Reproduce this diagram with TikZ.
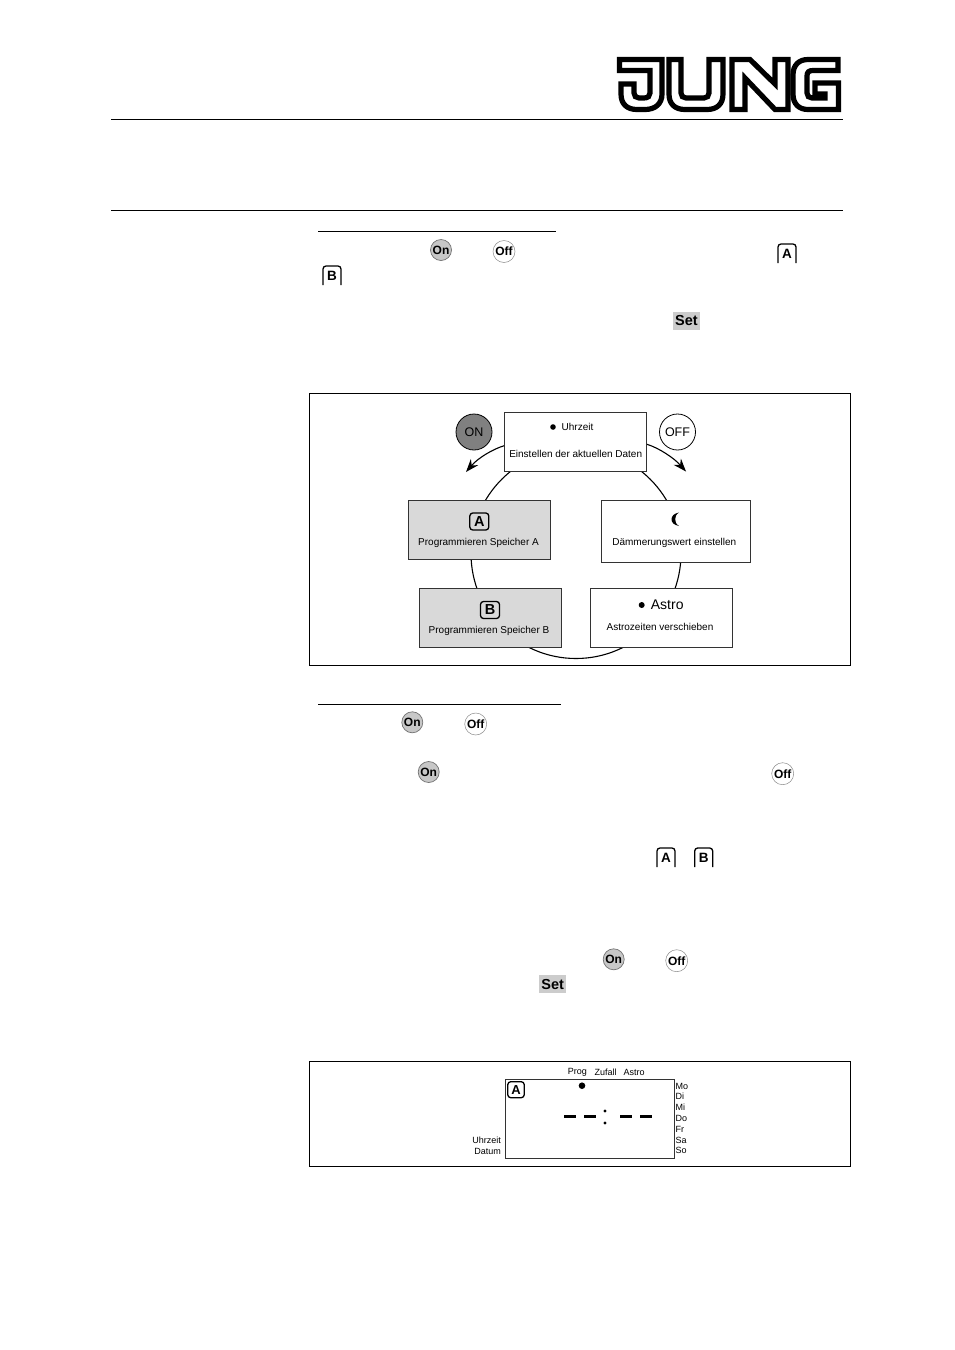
\documentclass[tikz,border=0pt]{standalone}
\usepackage{fontspec}
\setmainfont{Liberation Sans}
\usetikzlibrary{arrows.meta}
\newcommand{\fs}[1]{\fontsize{#1}{#1}\selectfont}
\tikzset{
  rule/.style={line width=1pt,black},
  frame/.style={draw=black,line width=1pt,fill=white},
  card/.style={draw=black!80,line width=.8pt,fill=white,inner sep=0pt,anchor=north west},
  graycard/.style={card,fill=black!15},
  logo/.style={draw=black,line width=5.2pt,line join=miter,fill=white},
  lab/.style={inner sep=0pt,font=\fs{10}},
  small/.style={inner sep=0pt,font=\fs{9}},
  dayl/.style={small,anchor=west},
  onbtn/.style={circle,draw=black!55,line width=.7pt,fill=black!22,minimum size=21pt,inner sep=0pt,font=\bfseries\fs{12}},
  offbtn/.style={circle,draw=black!45,line width=.5pt,fill=white,minimum size=22pt,inner sep=0pt,font=\bfseries\fs{12}},
  keytxt/.style={inner sep=0pt,font=\bfseries\fs{13.5}},
  setbtn/.style={fill=black!20,inner sep=0pt,minimum width=26.5pt,minimum height=18pt,font=\bfseries\fs{14.5}},
  ringline/.style={circle,draw=black,line width=1.1pt,inner sep=0pt,minimum size=210pt},
  flow/.style={line width=1.1pt,-{Stealth[length=13pt,width=9.5pt]}},
  dot/.style={circle,fill=black,inner sep=0pt},
  dashseg/.style={line width=2.8pt,black},
  keybox/.style={rounded corners=3pt,line width=1.3pt,black},
}
\newcommand{\openkey}[4]{% name, x, y, letter
  \node[keytxt] (#1) at (#2,#3) {#4};
  \draw[keybox] ([shift={(-9,9.5)}]#1.center) -- ([shift={(-9,-9.5)}]#1.center) -- ([shift={(9,-9.5)}]#1.center) -- ([shift={(9,9.5)}]#1.center);
}
\begin{document}
\begin{tikzpicture}[x=1pt,y=-1pt]
\useasboundingbox (0,0) rectangle (954,1350);
\fill[white] (0,0) rectangle (954,1350);
% logo
\draw[logo] (619.5,59.5) -- (662,59.5) -- (662,94) .. controls (662,104) and (655,109.5) .. (645,109.5) -- (637,109.5) .. controls (627,109.5) and (621,104) .. (621,94) -- (621,84) -- (634,84) -- (634,93) .. controls (634,96) and (636,98) .. (639,98) -- (644,98) .. controls (648,98) and (650,96) .. (650,93) -- (650,70.5) -- (619.5,70.5) -- cycle;
\draw[logo] (669,59.5) -- (681,59.5) -- (681,93) .. controls (681,96) and (683,98) .. (686,98) -- (704,98) .. controls (707,98) and (709,96) .. (709,93) -- (709,59.5) -- (723,59.5) -- (723,94) .. controls (723,104) and (717,109.5) .. (707,109.5) -- (685,109.5) .. controls (675,109.5) and (669,104) .. (669,94) -- cycle;
\draw[logo] (732,59.5) -- (750,59.5) -- (775,84) -- (775,59.5) -- (788,59.5) -- (788,109.5) -- (775,109.5) -- (745,78) -- (745,109.5) -- (732,109.5) -- cycle;
\draw[logo] (838,59.5) -- (838,70.5) -- (813,70.5) .. controls (809,70.5) and (807,72) .. (807,76) -- (807,93) .. controls (807,96) and (809,98) .. (812,98) -- (825,98) -- (825,94) -- (815,94) -- (815,83) -- (838.5,83) -- (838.5,109.5) -- (808,109.5) .. controls (799,109.5) and (793,104) .. (793,94) -- (793,75) .. controls (793,65) and (799,59.5) .. (808,59.5) -- cycle;
% rules
\coordinate (r1a) at (111,119.5); \coordinate (r1b) at (843,119.5);
\coordinate (r2a) at (111,210.5); \coordinate (r2b) at (843,210.5);
\coordinate (r3a) at (318,231); \coordinate (r3b) at (556,231);
\coordinate (r4a) at (318,704); \coordinate (r4b) at (561,704);
\draw[rule] (r1a) -- (r1b);
\draw[rule] (r2a) -- (r2b);
\draw[rule] (r3a) -- (r3b);
\draw[rule] (r4a) -- (r4b);
% inline icons, first block
\node[onbtn] (on1) at (441,250) {On};
\node[offbtn] (off1) at (504,251.5) {Off};
\openkey{keyA1}{787}{253.5}{A}
\openkey{keyB1}{332}{275.5}{B}
\node[setbtn] (set1) at (686.5,320.5) {Set};
% frame 1
\draw[frame] (309.5,393.5) rectangle (850.5,665.5);
\node[ringline] (ring) at (576,553.5) {};
\node[card,minimum width=142pt,minimum height=58.7pt] (uhr) at (504.2,412) {};
\node[graycard,minimum width=141.5pt,minimum height=58.6pt] (progA) at (408,500.2) {};
\node[card,minimum width=149.7pt,minimum height=61.8pt] (daem) at (600.5,500.2) {};
\node[graycard,minimum width=142pt,minimum height=58.6pt] (progB) at (418.8,588.2) {};
\node[card,minimum width=142pt,minimum height=58.8pt] (astro) at (590.2,588.2) {};
% box contents
\node[dot,minimum size=5.6pt] (d1) at (553,427) {};
\node[lab,anchor=west] (t1) at (561.5,426.5) {Uhrzeit};
\node[lab] (t2) at (575.7,454) {Einstellen der aktuellen Daten};
\node[inner sep=0pt,font=\bfseries\fs{14.5},draw=black,line width=1.3pt,rounded corners=3pt,minimum width=19pt,minimum height=17pt] (kA) at (479.3,521.5) {A};
\node[lab] (t3) at (478.5,542.5) {Programmieren Speicher A};
\node[inner sep=0pt,font=\bfseries\fs{14.5},draw=black,line width=1.3pt,rounded corners=3pt,minimum width=19pt,minimum height=17pt] (kB) at (490,610) {B};
\node[lab] (t4) at (489,631) {Programmieren Speicher B};
\coordinate (moon) at (675,519.3);
\fill[black] (679,512.5) .. controls (674,513.5) and (671.5,516) .. (671.5,519.3) .. controls (671.5,522.6) and (674,525) .. (679,526) .. controls (676,524) and (675.2,522) .. (675.2,519.3) .. controls (675.2,516.6) and (676,514.5) .. (679,512.5) -- cycle;
\node[lab] (t5) at (674.3,542.7) {Dämmerungswert einstellen};
\node[dot,minimum size=6pt] (d2) at (641.7,605) {};
\node[inner sep=0pt,anchor=west,font=\fs{14}] (t6) at (650.7,604.3) {Astro};
\node[lab] (t7) at (660,626.5) {Astrozeiten verschieben};
% ON / OFF
\node[circle,draw=black,line width=.8pt,fill=black!50,minimum size=36pt,inner sep=0pt,font=\fs{12.5}] (onc) at (474,432) {ON};
\node[circle,draw=black,line width=.8pt,fill=white,minimum size=36pt,inner sep=0pt,font=\fs{12.5}] (offc) at (677.5,432) {OFF};
\coordinate (ontip) at (466,472);
\coordinate (offtip) at (686,471.5);
\coordinate (onc1) at (493,449);
\coordinate (onc2) at (478,458);
\coordinate (offc1) at (659,448);
\coordinate (offc2) at (674,458);
\draw[flow] (uhr.west |- 0,445.7) .. controls (onc1) and (onc2) .. (ontip);
\draw[flow] (uhr.east |- 0,444.3) .. controls (offc1) and (offc2) .. (offtip);
% second block icons
\node[onbtn] (on2) at (412.3,722.3) {On};
\node[offbtn] (off2) at (475.7,724) {Off};
\node[onbtn] (on3) at (428.7,772) {On};
\node[offbtn] (off3) at (782.7,773.7) {Off};
\openkey{keyA2}{666}{857.5}{A}
\openkey{keyB2}{703.7}{857.5}{B}
\node[onbtn] (on4) at (613.7,959.3) {On};
\node[offbtn] (off4) at (676.7,960.7) {Off};
\node[setbtn] (set2) at (552.7,984) {Set};
% frame 2
\draw[frame] (309.5,1061.5) rectangle (850.5,1166.5);
\node[draw=black!80,line width=1pt,inner sep=0pt,anchor=north west,minimum width=168.7pt,minimum height=79.3pt] (lcd) at (505.3,1079) {};
\node[inner sep=0pt,font=\bfseries\fs{13},draw=black,line width=1.3pt,rounded corners=3pt,minimum width=16.5pt,minimum height=16pt] (kA2) at (516,1089.7) {A};
\node[small] (p1) at (577.3,1072) {Prog};
\node[small] (p2) at (605.7,1072) {Zufall};
\node[small] (p3) at (634,1072) {Astro};
\node[dot,minimum size=6.6pt] (d3) at (582,1085.7) {};
\coordinate (s1a) at (564,1116.5); \coordinate (s1b) at (575.7,1116.5);
\coordinate (s2a) at (584,1116.5); \coordinate (s2b) at (595.7,1116.5);
\coordinate (s3a) at (620,1116.5); \coordinate (s3b) at (632,1116.5);
\coordinate (s4a) at (640.3,1116.5); \coordinate (s4b) at (652,1116.5);
\draw[dashseg] (s1a) -- (s1b);
\draw[dashseg] (s2a) -- (s2b);
\draw[dashseg] (s3a) -- (s3b);
\draw[dashseg] (s4a) -- (s4b);
\node[dot,minimum size=3.4pt] (c1) at (605,1111) {};
\node[dot,minimum size=3.4pt] (c2) at (605,1123) {};
\node[dayl] (mo) at (675.3,1086) {Mo};
\node[dayl] (di) at (675.3,1096.7) {Di};
\node[dayl] (mi) at (675.3,1107.7) {Mi};
\node[dayl] (do) at (675.3,1118.7) {Do};
\node[dayl] (fr) at (675.3,1129.3) {Fr};
\node[dayl] (sa) at (675.3,1140) {Sa};
\node[dayl] (so) at (675.3,1150.7) {So};
\node[small,anchor=east] (uz) at (501,1140) {Uhrzeit};
\node[small,anchor=east] (dt) at (501,1151.7) {Datum};
\end{tikzpicture}
\end{document}
